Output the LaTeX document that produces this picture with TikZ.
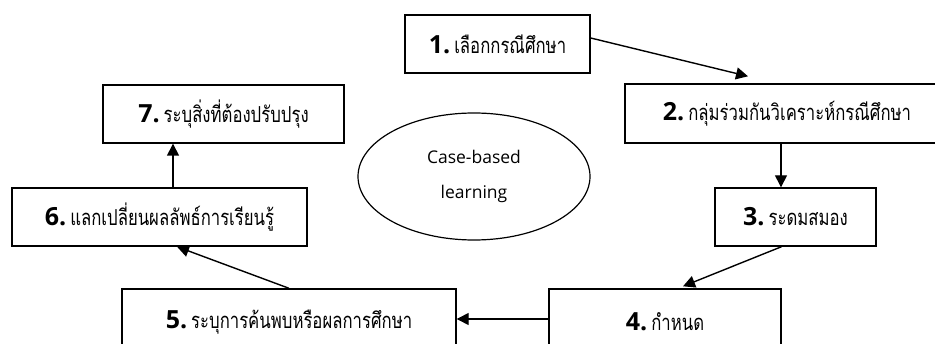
\documentclass[tikz,border=0pt]{standalone}
\usepackage{fontspec}
\setmainfont{Open Sans}
\newfontfamily\thaifont[Script=Thai,FakeStretch=0.76]{Loma}
\newfontfamily\numfont{Open Sans}
\usetikzlibrary{arrows.meta,shapes.geometric}

% numbered step label: bold number followed by Thai text
\newcommand{\steptext}[2]{{\numfont\fontsize{25}{28}\selectfont\bfseries #1.}\hspace{4pt}{\thaifont\fontsize{22}{28}\selectfont #2}}

\tikzset{
  stepbox/.style={draw=black, line width=1.4pt, rectangle, inner sep=0pt,
                  anchor=center, text=black},
  arr/.style={line width=1.4pt, -{Triangle[length=12pt,width=12pt]}},
}

\begin{document}
\begin{tikzpicture}[x=1pt,y=-1pt]
  \useasboundingbox (0,0) rectangle (935,344);
  \clip (0,0) rectangle (935,344);

  % process steps
  \node[stepbox, minimum width=185pt, minimum height=58pt] (b1) at (497.5,44)
       {\steptext{1}{เลือกกรณีศึกษา}};
  \node[stepbox, minimum width=324pt, minimum height=59pt] (b2) at (787,113.5)
       {\steptext{2}{กลุ่มร่วมกันวิเคราะห์กรณีศึกษา}};
  \node[stepbox, minimum width=161pt, minimum height=58pt] (b3) at (795.5,217)
       {\steptext{3}{ระดมสมอง}};
  \node[stepbox, minimum width=232pt, minimum height=66pt] (b4) at (665,322)
       {\steptext{4}{กำหนด}};
  \node[stepbox, minimum width=334pt, minimum height=66pt] (b5) at (289,322)
       {\steptext{5}{ระบุการค้นพบหรือผลการศึกษา}};
  \node[stepbox, minimum width=295pt, minimum height=58pt] (b6) at (159.5,217)
       {\steptext{6}{แลกเปลี่ยนผลลัพธ์การเรียนรู้}};
  \node[stepbox, minimum width=241pt, minimum height=58pt] (b7) at (223.5,114)
       {\steptext{7}{ระบุสิ่งที่ต้องปรับปรุง}};

  % centre label
  \node[ellipse, draw=black, line width=1.2pt, minimum width=232pt,
        minimum height=127pt, inner sep=0pt, align=center,
        font=\fontsize{17.5}{35}\selectfont] (core) at (474,176.5)
       {Case-based\\learning};

  % connectors
  \draw[arr] ([yshift=6pt]b1.east) -- ([xshift=-39pt,yshift=7pt]b2.north);
  \draw[arr] ([xshift=-6pt]b2.south) -- ([xshift=-6pt]b2.south |- b3.north);
  \draw[arr] ([xshift=-14pt]b3.south) -- ([xshift=18pt,yshift=2pt]b4.north);
  \draw[arr] ([yshift=3pt]b4.west) -- ([yshift=3pt]b4.west -| b5.east);
  \draw[arr] (b5.north) -- ([xshift=17.5pt]b6.south);
  \draw[arr] ([xshift=13.5pt]b6.north) -- ([xshift=13.5pt]b6.north |- b7.south);
\end{tikzpicture}
\end{document}
